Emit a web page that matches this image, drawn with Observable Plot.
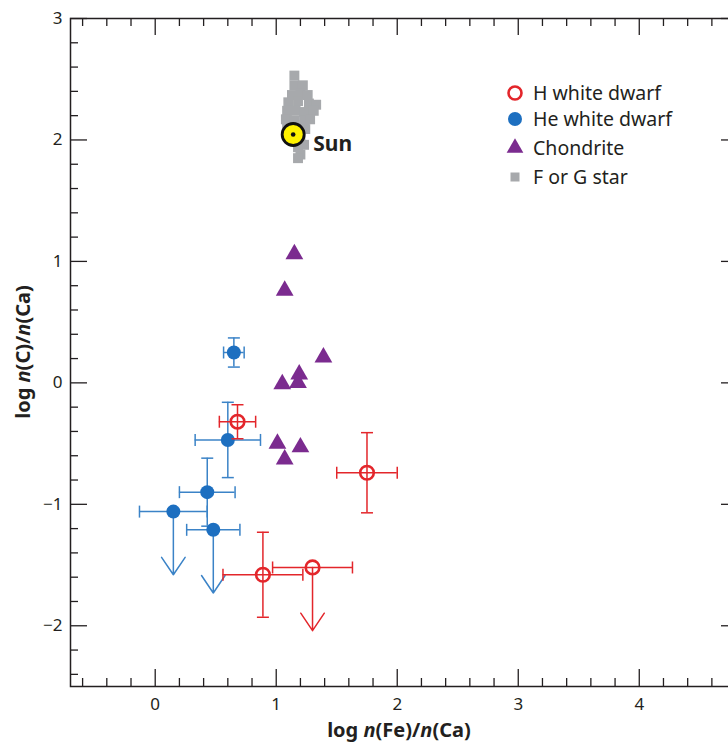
<!DOCTYPE html>
<html><head><meta charset="utf-8">
<script src="https://cdn.jsdelivr.net/npm/d3@7"></script>
<script src="https://cdn.jsdelivr.net/npm/@observablehq/plot@0.6"></script>
<style>
html,body{margin:0;padding:0;background:#fff;overflow:hidden;}
</style></head><body><div id="chart"></div>
<script>
// ---------- data ----------
const hwdX = [0.68, 1.75, 0.89, 1.30];
const hwdY = [-0.32, -0.74, -1.58, -1.52];
const hwdXErr = [0.15, 0.25, 0.33, 0.33];
const hwdYErr = [0.14, 0.33, 0.35, 0];
const hwdUpperLimit = [false, false, false, true];

const hewdX = [0.65, 0.60, 0.43, 0.15, 0.48];
const hewdY = [0.25, -0.47, -0.90, -1.06, -1.21];
const hewdXErr = [0.085, 0.27, 0.23, 0.28, 0.22];
const hewdYErr = [0.12, 0.31, 0.28, 0, 0];
const hewdUpperLimit = [false, false, false, true, true];

const chondX = [1.15, 1.07, 1.39, 1.19, 1.18, 1.05, 1.01, 1.20, 1.07];
const chondY = [1.06, 0.76, 0.21, 0.07, 0.00, -0.01, -0.50, -0.53, -0.63];

const starX = [1.15, 1.15, 1.22, 1.13, 1.20, 1.26, 1.10, 1.18, 1.27, 1.33, 1.09, 1.16, 1.23, 1.31,
               1.08, 1.15, 1.23, 1.28, 1.09, 1.18, 1.24, 1.20, 1.23, 1.18, 1.20, 1.18];
const starY = [2.53, 2.45, 2.45, 2.37, 2.38, 2.37, 2.31, 2.32, 2.30, 2.29, 2.24, 2.24, 2.23, 2.24,
               2.17, 2.16, 2.16, 2.17, 2.10, 2.09, 2.09, 2.02, 1.96, 1.94, 1.88, 1.85];

const sunX = [1.14];
const sunY = [2.045];
const sunLabel = ["Sun"];

const xTicks = [0, 1, 2, 3, 4];
const yTicks = [-2, -1, 0, 1, 2, 3];
const legendLabels = ["H white dwarf", "He white dwarf", "Chondrite", "F or G star"];
const limitLength = 0.52;

// ---------- tables ----------
const hwd = hwdX.map((x, i) => ({x, y: hwdY[i], xe: hwdXErr[i], ye: hwdYErr[i], lim: hwdUpperLimit[i]}));
const hewd = hewdX.map((x, i) => ({x, y: hewdY[i], xe: hewdXErr[i], ye: hewdYErr[i], lim: hewdUpperLimit[i]}));
const chond = chondX.map((x, i) => ({x, y: chondY[i]}));
const stars = starX.map((x, i) => ({x, y: starY[i]}));
const sun = sunX.map((x, i) => ({x, y: sunY[i], label: sunLabel[i]}));

const xMinor = d3.range(-6, 48, 2).map(v => v / 10).filter(v => Math.abs(v - Math.round(v)) > 1e-6);
const yMinor = d3.range(-24, 30, 2).map(v => v / 10).filter(v => Math.abs(v - Math.round(v)) > 1e-6);

// ---------- style ----------
const RED = "#e3262b", BLUE = "#1d6fc0", BLUE_ERR = "#3b83c7", PURPLE = "#7b2b8f", GRAY = "#a7a9ac", INK = "#231f20";
const W = 728, H = 743, mL = 70, mR = -10, mT = 18, mB = 57;
const fw = W - mL - mR, fh = H - mT - mB;
const MAJ = 17, MIN = 8;
const fmt = d => d < 0 ? "\u2212" + (-d) : String(d);

const vcap = {draw(ctx, size) { const r = Math.sqrt(size / Math.PI); ctx.moveTo(0, -r); ctx.lineTo(0, r); }};
const hcap = {draw(ctx, size) { const r = Math.sqrt(size / Math.PI); ctx.moveTo(-r, 0); ctx.lineTo(r, 0); }};

function errorMarks(data, color) {
  const bars = data.filter(d => !d.lim);
  const lims = data.filter(d => d.lim);
  const common = {stroke: color, strokeWidth: 1.5};
  return [
    Plot.ruleY(data, {y: "y", x1: d => d.x - d.xe, x2: d => d.x + d.xe, ...common}),
    Plot.dot(data, {x: d => d.x - d.xe, y: "y", symbol: vcap, r: 6, fill: "none", ...common}),
    Plot.dot(data, {x: d => d.x + d.xe, y: "y", symbol: vcap, r: 6, fill: "none", ...common}),
    Plot.ruleX(bars, {x: "x", y1: d => d.y - d.ye, y2: d => d.y + d.ye, ...common}),
    Plot.dot(bars, {x: "x", y: d => d.y - d.ye, symbol: hcap, r: 6, fill: "none", ...common}),
    Plot.dot(bars, {x: "x", y: d => d.y + d.ye, symbol: hcap, r: 6, fill: "none", ...common}),
    Plot.arrow(lims, {x1: "x", y1: "y", x2: "x", y2: d => d.y - limitLength, headLength: 24, headAngle: 68, ...common})
  ];
}

const tickStyle = {stroke: INK, strokeWidth: 1.3};

const chart = Plot.plot({
  width: W, height: H,
  marginLeft: mL, marginRight: mR, marginTop: mT, marginBottom: mB,
  x: {domain: [-0.7, 4.82]},
  y: {domain: [-2.5, 3]},
  style: {fontFamily: "'Noto Sans', sans-serif", background: "white", color: INK},
  marks: [
    // ticks (inward, all four sides)
    Plot.tickX(xMinor, {x: d => d, insetTop: fh - MIN, ...tickStyle}),
    Plot.tickX(xTicks, {x: d => d, insetTop: fh - MAJ, ...tickStyle}),
    Plot.tickX(xMinor, {x: d => d, insetBottom: fh - MIN, ...tickStyle}),
    Plot.tickX(xTicks, {x: d => d, insetBottom: fh - MAJ, ...tickStyle}),
    Plot.tickY(yMinor, {y: d => d, insetRight: fw - MIN, ...tickStyle}),
    Plot.tickY(yTicks, {y: d => d, insetRight: fw - MAJ, ...tickStyle}),
    Plot.tickY(yMinor, {y: d => d, insetLeft: fw - MIN, ...tickStyle}),
    Plot.tickY(yTicks, {y: d => d, insetLeft: fw - MAJ, ...tickStyle}),
    Plot.axisX(xTicks, {anchor: "bottom", tickSize: 0, tickPadding: 11, fontSize: 17, label: null, fill: INK, tickFormat: fmt}),
    Plot.axisY(yTicks, {anchor: "left", tickSize: 0, tickPadding: 8, fontSize: 17, label: null, fill: INK, tickFormat: fmt}),
    Plot.frame({stroke: INK, strokeWidth: 1.5}),
    // F or G stars
    Plot.dot(stars, {x: "x", y: "y", symbol: "square", r: 5.6, fill: GRAY}),
    // Sun
    Plot.dot(sun, {x: "x", y: "y", r: 11, fill: "#fff200", stroke: "#111", strokeWidth: 2.8}),
    Plot.dot(sun, {x: "x", y: "y", r: 2.3, fill: "#111"}),
    Plot.text(sun, {x: "x", y: "y", text: "label", dx: 20, dy: 10, textAnchor: "start", fontWeight: "bold", fontSize: 21, fill: INK}),
    // Chondrites
    Plot.dot(chond, {x: "x", y: "y", symbol: "triangle", r: 6.6, fill: PURPLE}),
    // He white dwarfs
    ...errorMarks(hewd, BLUE_ERR),
    Plot.dot(hewd, {x: "x", y: "y", r: 7, fill: BLUE}),
    // H white dwarfs
    ...errorMarks(hwd, RED),
    Plot.dot(hwd, {x: "x", y: "y", r: 6.8, fill: "white", fillOpacity: 0, stroke: RED, strokeWidth: 2.6})
  ]
});

const svg = d3.select(chart);

// axis titles
const xt = svg.append("text").attr("x", 399).attr("y", 737).attr("text-anchor", "middle")
  .attr("font-family", "'Noto Sans', sans-serif").attr("font-size", 20).attr("font-weight", "bold").attr("fill", INK);
xt.append("tspan").text("log ");
xt.append("tspan").attr("font-style", "italic").text("n");
xt.append("tspan").text("(Fe)/");
xt.append("tspan").attr("font-style", "italic").text("n");
xt.append("tspan").text("(Ca)");

const yt = svg.append("text").attr("transform", "translate(30,352) rotate(-90)").attr("text-anchor", "middle")
  .attr("font-family", "'Noto Sans', sans-serif").attr("font-size", 20).attr("font-weight", "bold").attr("fill", INK);
yt.append("tspan").text("log ");
yt.append("tspan").attr("font-style", "italic").text("n");
yt.append("tspan").text("(C)/");
yt.append("tspan").attr("font-style", "italic").text("n");
yt.append("tspan").text("(Ca)");

// legend
const lg = svg.append("g").attr("font-family", "'Noto Sans', sans-serif").attr("font-size", 19.5).attr("fill", INK).attr("text-anchor", "start");
const rows = [93, 119, 148, 177];
const lx = 515, tx = 533;
lg.append("circle").attr("cx", lx).attr("cy", rows[0]).attr("r", 6.5).attr("fill", "none").attr("stroke", RED).attr("stroke-width", 2.6);
lg.append("circle").attr("cx", lx).attr("cy", rows[1]).attr("r", 7).attr("fill", BLUE);
lg.append("path").attr("transform", `translate(${lx},${rows[2]})`).attr("d", d3.symbol(d3.symbolTriangle, Math.PI * 6.2 * 6.2)()).attr("fill", PURPLE);
lg.append("rect").attr("x", lx - 4.5).attr("y", rows[3] - 4.5).attr("width", 9).attr("height", 9).attr("fill", GRAY);
legendLabels.forEach((t, i) => {
  lg.append("text").attr("x", tx).attr("y", rows[i]).attr("dy", "0.36em").attr("text-anchor", "start").text(t);
});

document.getElementById("chart").appendChild(chart);
</script>
</body></html>
